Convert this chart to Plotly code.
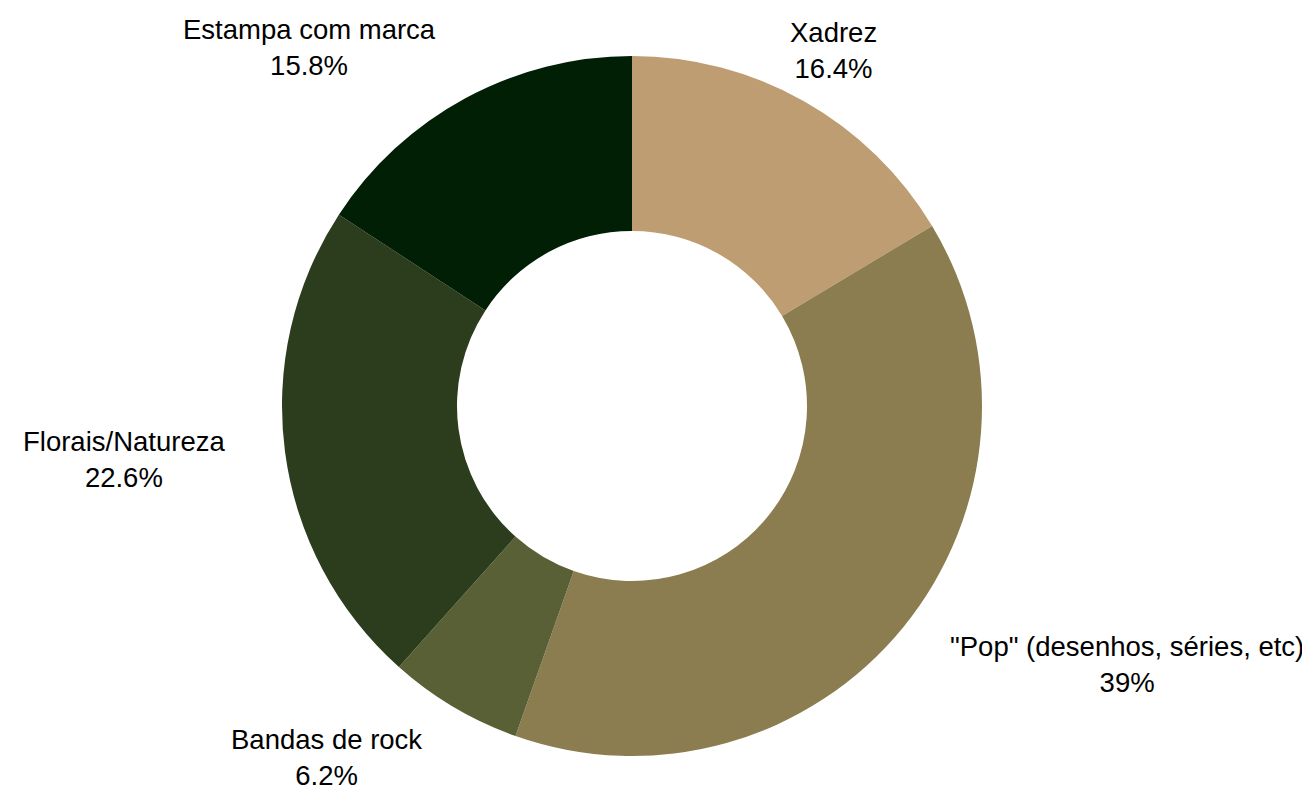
import math
import plotly.graph_objects as go

# categorias e percentuais
categorias = ["Xadrez", "\"Pop\" (desenhos, séries, etc)", "Bandas de rock",
              "Florais/Natureza", "Estampa com marca"]
percentuais = [16.4, 39.0, 6.2, 22.6, 15.8]
cores = ["#BF9D72", "#8B7D50", "#596036", "#2B3D1D", "#001F05"]

largura, altura = 1310, 792
margem = dict(l=4, r=66, t=48, b=44)
area_w = largura - margem["l"] - margem["r"]
area_h = altura - margem["t"] - margem["b"]
raio = min(area_w, area_h) / 2
dist_rotulo = raio * 1.166  # rotulos um pouco fora da rosca

fig = go.Figure(go.Pie(
    labels=categorias,
    values=percentuais,
    hole=0.5,
    sort=False,
    direction="clockwise",
    rotation=0,
    marker=dict(colors=cores),
    textinfo="none",
    hoverinfo="label+percent",
    showlegend=False,
))

# rotulos externos, no angulo medio de cada fatia
total = sum(percentuais)
acumulado = 0
for nome, v in zip(categorias, percentuais):
    meio = (acumulado + v / 2) / total * 2 * math.pi
    acumulado += v
    s, c = math.sin(meio), math.cos(meio)
    if s > 0.5:
        xanchor = "left"
    elif s < -0.45:
        xanchor = "right"
    else:
        xanchor = "center"
    fig.add_annotation(
        x=0.5 + dist_rotulo * s / area_w,
        y=0.5 + dist_rotulo * c / area_h,
        xref="paper", yref="paper",
        text=f"{nome}<br>{v:g}%",
        showarrow=False,
        xanchor=xanchor,
        yanchor="middle",
        align="center",
        font=dict(size=27.5, color="black"),
    )

fig.update_layout(
    width=largura,
    height=altura,
    margin=margem,
    font=dict(family="Liberation Sans, Arial", size=27.5, color="black"),
    paper_bgcolor="white",
    plot_bgcolor="white",
)

fig.write_html("out.html")
